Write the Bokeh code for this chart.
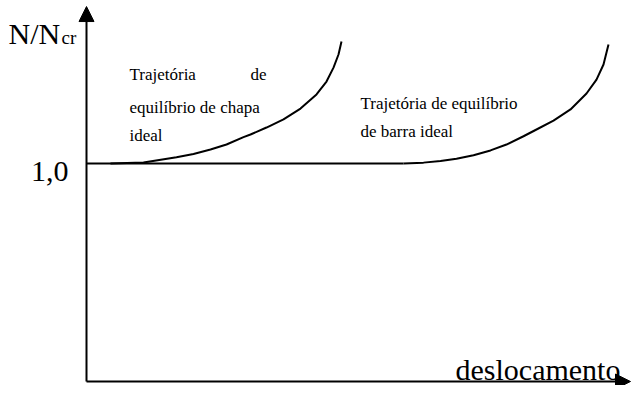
from bokeh.plotting import figure
from bokeh.models import Arrow, NormalHead, Label, Range1d
from bokeh.embed import file_html
from bokeh.resources import INLINE

# Data (x: displacement, arbitrary units; y: N/Ncr)
plate_x = [0.24, 0.57, 0.90, 1.07, 1.24, 1.40, 1.57, 1.64, 1.80, 1.97, 2.14, 2.30, 2.40, 2.47, 2.52, 2.55]
plate_y = [1.000, 1.005, 1.029, 1.044, 1.064, 1.087, 1.121, 1.133, 1.165, 1.202, 1.252, 1.317, 1.376, 1.440, 1.500, 1.560]
bar_flat_x = [0.0, 3.17]
bar_flat_y = [1.0, 1.0]
bar_x = [3.17, 3.37, 3.54, 3.70, 3.87, 4.04, 4.20, 4.37, 4.50, 4.67, 4.84, 5.00, 5.10, 5.17, 5.22]
bar_y = [1.000, 1.004, 1.011, 1.022, 1.038, 1.060, 1.087, 1.125, 1.156, 1.197, 1.248, 1.321, 1.385, 1.454, 1.546]
x_axis_end = 5.44
y_axis_end = 1.72

W, H = 631, 385
OX, OY = 7, 6  # shift of the reference picture into the figure
PX = 100.0     # pixels per x unit
PY = 218.0     # pixels per y unit
x0 = 93 - OX           # frame x of data x=0
y0 = H - (387 - OY)    # frame y (from bottom) of data y=0

p = figure(width=W, height=H, output_backend="svg", toolbar_location=None,
           min_border=0, outline_line_color=None,
           x_range=Range1d(-x0 / PX, (W - x0) / PX),
           y_range=Range1d(-y0 / PY, (H - y0) / PY))
p.axis.visible = False
p.grid.visible = False
p.background_fill_color = "white"
p.border_fill_color = "white"

# axes with arrows
p.add_layout(Arrow(end=NormalHead(size=15, fill_color="black", line_color="black"),
                   x_start=0, y_start=0, x_end=0, y_end=y_axis_end,
                   line_width=2, line_color="black"))
p.add_layout(Arrow(end=NormalHead(size=15, fill_color="black", line_color="black"),
                   x_start=0, y_start=0, x_end=x_axis_end, y_end=0,
                   line_width=2, line_color="black"))

p.line(bar_flat_x, bar_flat_y, line_color="black", line_width=2)
p.line(bar_x, bar_y, line_color="black", line_width=2, line_join="round")
p.line(plate_x, plate_y, line_color="black", line_width=2, line_join="round")

FONT = "Liberation Serif"

def lab(text, x_img, base_img, size, align="left"):
    p.add_layout(Label(x=x_img - OX, y=H - (base_img - OY), x_units="screen", y_units="screen",
                       text=text, text_font=FONT, text_font_size=f"{size}px",
                       text_align=align, text_baseline="alphabetic", text_color="black"))

lab("N/N", 15, 39, 30)
lab("cr", 68, 43, 19)
lab("1,0", 75, 177, 30, "right")
lab("deslocamento", 462, 375, 30)

lab("Trajetória", 136, 80, 17)
lab("de", 273, 80, 17, "right")
lab("equilíbrio de chapa", 136, 113, 17)
lab("ideal", 136, 141, 17)

lab("Trajetória de equilíbrio", 367, 109, 17)
lab("de barra ideal", 367, 137, 17)

open("out.html", "w").write(file_html(p, INLINE))
